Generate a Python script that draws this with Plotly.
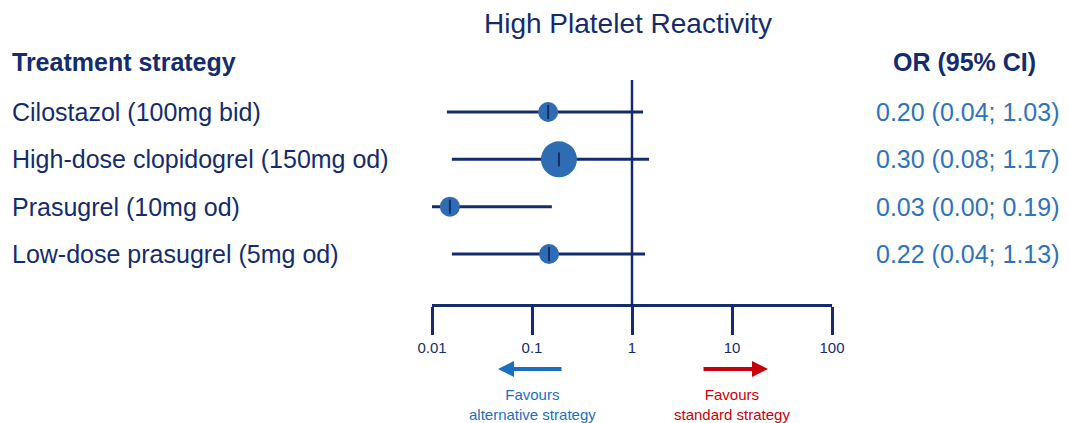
import plotly.graph_objects as go
import math

# ---- data ----
strategies = ["Cilostazol (100mg bid)", "High-dose clopidogrel (150mg od)",
              "Prasugrel (10mg od)", "Low-dose prasugrel (5mg od)"]
or_text = ["0.20 (0.04; 1.03)", "0.30 (0.08; 1.17)", "0.03 (0.00; 0.19)", "0.22 (0.04; 1.13)"]
# plotted positions
est = [0.145, 0.186, 0.0151, 0.148]
ci_low = [0.0141, 0.0158, 0.0078, 0.0158]
ci_high = [1.29, 1.48, 0.158, 1.35]
weights = [20, 36, 20, 20]  # marker diameter (px)
tick_vals = [0.01, 0.1, 1, 10, 100]
tick_text = ["0.01", "0.1", "1", "10", "100"]

NAVY = "#142c6c"
DOT = "#2e6db4"
VAL = "#2f73b8"
BLUE_ARROW = "#1a6fc0"
RED = "#c8000a"
FONT = "Liberation Sans, Arial, sans-serif"

W, H = 1070, 423
OFF = 8  # page body margin offset


def px(x):
    return (x - OFF) / W


rows = list(range(len(strategies)))
ROW0, STEP = 112, 47.33


def ry(p):
    return (p - ROW0) / STEP


AXIS_Y = ry(305)

fig = go.Figure()

# CI lines
for i in rows:
    fig.add_trace(go.Scatter(x=[ci_low[i], ci_high[i]], y=[i, i], mode="lines",
                             line=dict(color=NAVY, width=3), hoverinfo="skip", showlegend=False))
# dots
fig.add_trace(go.Scatter(x=est, y=rows, mode="markers",
                         marker=dict(size=weights, color=DOT, opacity=1, line=dict(width=0)),
                         showlegend=False))
# small vertical ticks in dots
fig.add_trace(go.Scatter(x=est, y=rows, mode="markers",
                         marker=dict(symbol="line-ns", size=10, opacity=1,
                                     line=dict(color=NAVY, width=2)),
                         showlegend=False))

# vertical line of no effect
fig.add_shape(type="line", x0=1, x1=1, y0=ry(80), y1=AXIS_Y, xref="x", yref="y",
              line=dict(color=NAVY, width=2.5))

# row labels and OR values
for i in rows:
    fig.add_annotation(x=px(10), y=i, xref="paper", yref="y", text=strategies[i],
                       showarrow=False, xanchor="left", yanchor="middle",
                       font=dict(family=FONT, size=25, color=NAVY))
    fig.add_annotation(x=px(1061), y=i, xref="paper", yref="y", text=or_text[i],
                       showarrow=False, xanchor="right", yanchor="middle",
                       font=dict(family=FONT, size=25, color=VAL))

# headers
fig.add_annotation(x=px(10), y=ry(62), xref="paper", yref="y", text="<b>Treatment strategy</b>",
                   showarrow=False, xanchor="left", yanchor="middle",
                   font=dict(family=FONT, size=25, color=NAVY))
fig.add_annotation(x=px(1038), y=ry(62), xref="paper", yref="y", text="<b>OR (95% CI)</b>",
                   showarrow=False, xanchor="right", yanchor="middle",
                   font=dict(family=FONT, size=25, color=NAVY))
fig.add_annotation(x=px(628), y=ry(23), xref="paper", yref="y", text="High Platelet Reactivity",
                   showarrow=False, xanchor="center", yanchor="middle",
                   font=dict(family=FONT, size=28, color=NAVY))

# favour arrows
fig.add_annotation(x=-1.34, y=ry(369), ax=-0.69, ay=ry(369), xref="x", yref="y", axref="x", ayref="y",
                   text="", showarrow=True, arrowhead=2, arrowsize=0.8, arrowwidth=4,
                   arrowcolor=BLUE_ARROW)
fig.add_annotation(x=1.36, y=ry(369), ax=0.70, ay=ry(369), xref="x", yref="y", axref="x", ayref="y",
                   text="", showarrow=True, arrowhead=2, arrowsize=0.8, arrowwidth=4, arrowcolor=RED)
fig.add_annotation(x=math.log10(0.1), y=ry(404), xref="x", yref="y",
                   text="Favours<br>alternative strategy",
                   showarrow=False, xanchor="center", yanchor="middle",
                   font=dict(family=FONT, size=15, color=BLUE_ARROW))
fig.add_annotation(x=math.log10(10), y=ry(404), xref="x", yref="y",
                   text="Favours<br>standard strategy",
                   showarrow=False, xanchor="center", yanchor="middle",
                   font=dict(family=FONT, size=15, color=RED))

fig.update_layout(
    width=W, height=H, margin=dict(l=0, r=0, t=0, b=0, autoexpand=False),
    paper_bgcolor="white", plot_bgcolor="white",
    xaxis=dict(type="log", range=[-2, 2], domain=[px(432), px(832)],
               anchor="free", position=1 - (305 - OFF) / H, automargin=False,
               tickvals=tick_vals, ticktext=tick_text, ticks="outside", ticklen=28,
               tickwidth=2.5, tickcolor=NAVY, showline=True, linecolor=NAVY, linewidth=2.5,
               showgrid=False, zeroline=False,
               tickfont=dict(family=FONT, size=15, color=NAVY)),
    yaxis=dict(range=[ry(H + OFF), ry(OFF)], domain=[0, 1], visible=False,
               showgrid=False, zeroline=False, automargin=False),
)

fig.write_html("out.html")
